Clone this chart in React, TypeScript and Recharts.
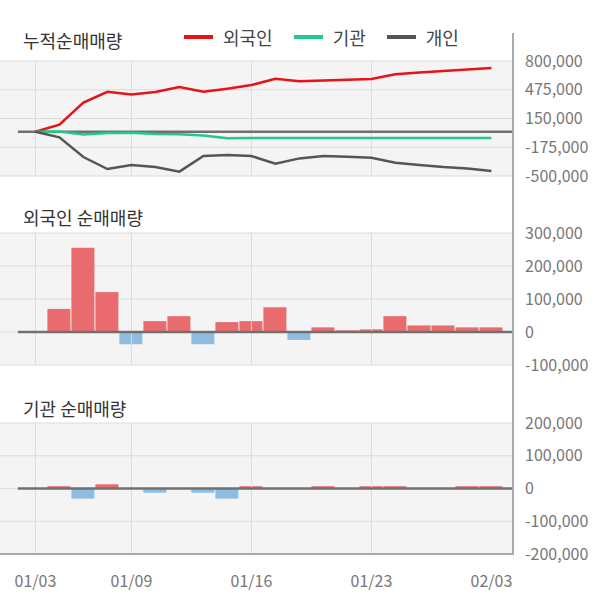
import React from "react";
import {
  ComposedChart,
  Line,
  Bar,
  Cell,
  XAxis,
  YAxis,
  CartesianGrid,
  ReferenceLine,
} from "recharts";

const dates = [
  "01/03", "01/04", "01/05", "01/06", "01/09", "01/10", "01/11", "01/12", "01/13", "01/16",
  "01/17", "01/18", "01/19", "01/20", "01/23", "01/24", "01/25", "01/26", "02/02", "02/03",
];

// cumulative net buying
const foreignCum = [0, 80000, 330000, 452000, 422000, 449000, 505000, 452000, 487000, 528000, 598000, 572000, 580000, 588000, 597000, 650000, 670000, 687000, 705000, 722000];
const instCum = [0, 4000, -30000, -15000, -12000, -26000, -27000, -42000, -72000, -71000, -71000, -71000, -71000, -71000, -71000, -71000, -71000, -71000, -71000, -71000];
const indivCum = [0, -63000, -286000, -421000, -376000, -398000, -451000, -274000, -263000, -274000, -361000, -301000, -274000, -282000, -293000, -350000, -376000, -399000, -414000, -444000];

// daily net buying
const foreignNet = [0, 70000, 255000, 121000, -37000, 33000, 48000, -37000, 30000, 33000, 75000, -24000, 14000, 5000, 8000, 48000, 20000, 20000, 14000, 14000];
const instNet = [0, 7000, -31000, 13000, 0, -13000, 0, -13000, -31000, 7000, 0, 0, 7000, 0, 7000, 7000, 0, 0, 7000, 7000];

const tickIdx = [0, 4, 9, 14, 19];
const gridIdx = [0, 4, 9, 14];
const cumTicks = [-500000, -175000, 150000, 475000, 800000];
const foreignTicks = [-100000, 0, 100000, 200000, 300000];
const instTicks = [-200000, -100000, 0, 100000, 200000];

const series = [
  { key: "foreign", name: "외국인", color: "#e8121b" },
  { key: "inst", name: "기관", color: "#22c98b" },
  { key: "indiv", name: "개인", color: "#555555" },
];

const cumData = dates.map((d, i) => ({
  idx: i,
  date: d,
  foreign: foreignCum[i],
  inst: instCum[i],
  indiv: indivCum[i],
}));
const foreignData = dates.map((d, i) => ({ idx: i, date: d, value: foreignNet[i] }));
const instData = dates.map((d, i) => ({ idx: i, date: d, value: instNet[i] }));

const FONT = '"Noto Sans CJK KR", "Noto Sans", sans-serif';
const X_DOMAIN: [number, number] = [-1.475, 19.9];
const UP = "#ea6b6d";
const DOWN = "#8fbde2";
const fmt = (v: number) => v.toLocaleString("en-US");

const yTick = { fill: "#777", fontSize: 16, fontFamily: FONT };

function grid() {
  return [
    <CartesianGrid key="g" vertical={false} stroke="#dcdcdc" fill="#f4f4f4" fillOpacity={1} />,
    ...gridIdx.map((i) => (
      <ReferenceLine key={"v" + i} x={i} stroke="#dcdcdc" strokeWidth={1} />
    )),
  ];
}

function zeroLine() {
  return (
    <ReferenceLine
      segment={[{ x: -0.73, y: 0 }, { x: X_DOMAIN[1], y: 0 }]}
      stroke="#707070"
      strokeWidth={2.5}
    />
  );
}

function Title({ top, text }: { top: number; text: string }) {
  return (
    <div
      style={{
        position: "absolute",
        left: 23,
        top,
        fontSize: 18,
        lineHeight: "18px",
        color: "#333",
        fontFamily: FONT,
        whiteSpace: "nowrap",
      }}
    >
      {text}
    </div>
  );
}

export default function App() {
  return (
    <div
      style={{
        position: "absolute",
        left: 0,
        top: 0,
        width: 600,
        height: 604,
        background: "#fff",
        fontFamily: FONT,
        overflow: "hidden",
      }}
    >
      <ComposedChart
        width={600}
        height={190}
        data={cumData}
        margin={{ top: 61, right: 0, bottom: 14, left: 0 }}
        style={{ position: "absolute", left: 0, top: 0 }}
      >
        {grid()}
        <XAxis dataKey="idx" type="number" domain={X_DOMAIN} allowDataOverflow hide />
        <YAxis
          orientation="right"
          width={87}
          domain={[-500000, 800000]}
          ticks={cumTicks}
          interval={0}
          tickFormatter={fmt}
          axisLine={false}
          tickLine={false}
          tickSize={0}
          tickMargin={12}
          tick={yTick}
          allowDataOverflow
        />
        {zeroLine()}
        {series.map((s) => (
          <Line
            key={s.key}
            dataKey={s.key}
            name={s.name}
            stroke={s.color}
            strokeWidth={2.5}
            dot={false}
            type="linear"
            isAnimationActive={false}
          />
        ))}
      </ComposedChart>

      <ComposedChart
        width={600}
        height={180}
        data={foreignData}
        margin={{ top: 33, right: 0, bottom: 15, left: 0 }}
        style={{ position: "absolute", left: 0, top: 200 }}
      >
        {grid()}
        <XAxis dataKey="idx" type="number" domain={X_DOMAIN} allowDataOverflow hide />
        <YAxis
          orientation="right"
          width={87}
          domain={[-100000, 300000]}
          ticks={foreignTicks}
          interval={0}
          tickFormatter={fmt}
          axisLine={false}
          tickLine={false}
          tickSize={0}
          tickMargin={12}
          tick={yTick}
          allowDataOverflow
        />
        <Bar dataKey="value" barSize={23} isAnimationActive={false}>
          {foreignData.map((d, i) => (
            <Cell key={i} fill={d.value >= 0 ? UP : DOWN} />
          ))}
        </Bar>
        {zeroLine()}
      </ComposedChart>

      <ComposedChart
        width={600}
        height={214}
        data={instData}
        margin={{ top: 33, right: 0, bottom: 10, left: 0 }}
        style={{ position: "absolute", left: 0, top: 390 }}
      >
        {grid()}
        <XAxis
          dataKey="idx"
          type="number"
          domain={X_DOMAIN}
          allowDataOverflow
          ticks={tickIdx}
          interval={0}
          tickFormatter={(i: number) => dates[i]}
          height={40}
          tickLine={false}
          tickSize={0}
          tickMargin={22}
          axisLine={{ stroke: "#aaa", strokeWidth: 2 }}
          tick={{ fill: "#777", fontSize: 16, fontFamily: FONT }}
        />
        <YAxis
          orientation="right"
          width={87}
          domain={[-200000, 200000]}
          ticks={instTicks}
          interval={0}
          tickFormatter={fmt}
          axisLine={false}
          tickLine={false}
          tickSize={0}
          tickMargin={12}
          tick={yTick}
          allowDataOverflow
        />
        <Bar dataKey="value" barSize={23} isAnimationActive={false}>
          {instData.map((d, i) => (
            <Cell key={i} fill={d.value >= 0 ? UP : DOWN} />
          ))}
        </Bar>
        {zeroLine()}
      </ComposedChart>

      {/* shared right axis line */}
      <div
        style={{
          position: "absolute",
          left: 512,
          top: 33,
          width: 2,
          height: 522,
          background: "#aaa",
        }}
      />

      <Title top={31} text="누적순매매량" />
      <Title top={208} text="외국인 순매매량" />
      <Title top={399} text="기관 순매매량" />

      <div
        style={{
          position: "absolute",
          left: 184,
          top: 28,
          display: "flex",
          alignItems: "center",
          fontSize: 18,
          lineHeight: "18px",
          color: "#444",
        }}
      >
        {series.map((s) => (
          <div key={s.key} style={{ display: "flex", alignItems: "center", marginRight: 21 }}>
            <div style={{ width: 29, height: 4, background: s.color, marginRight: 10 }} />
            <span>{s.name}</span>
          </div>
        ))}
      </div>
    </div>
  );
}
